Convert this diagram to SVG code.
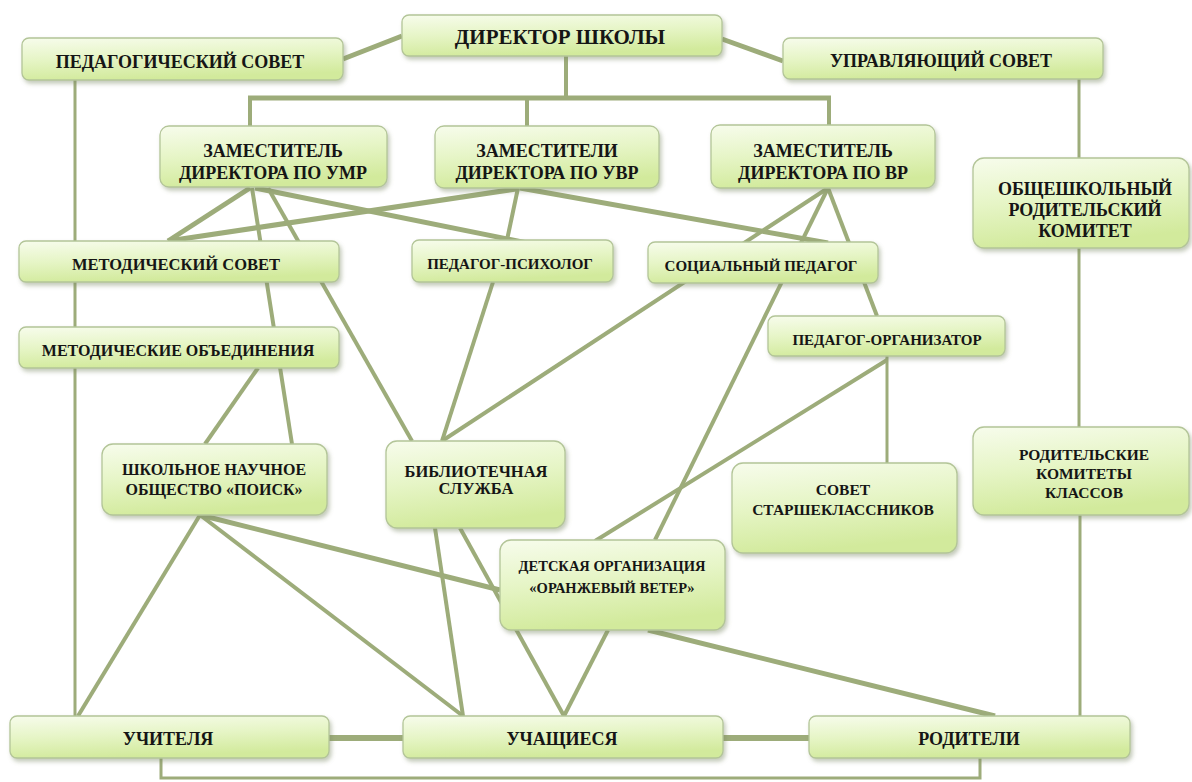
<svg xmlns="http://www.w3.org/2000/svg" width="1192" height="782" viewBox="0 0 1192 782">
<defs>
<linearGradient id="g" x1="0" y1="0" x2="0.25" y2="1">
<stop offset="0" stop-color="#f7fcec"/>
<stop offset="0.5" stop-color="#e6f5c6"/>
<stop offset="1" stop-color="#d2ea9c"/>
</linearGradient>
<filter id="sh" x="-10%" y="-10%" width="125%" height="135%">
<feDropShadow dx="2" dy="3" stdDeviation="2" flood-color="#7d8a66" flood-opacity="0.45"/>
</filter>
<style>
.box{fill:url(#g);stroke:#b3c598;stroke-width:1.3;filter:url(#sh)}
.t{font-family:"Liberation Serif","Times New Roman",serif;font-weight:bold;font-size:17px;fill:#151515;text-anchor:middle}
.s21{font-size:21px}
.s18{font-size:18px}
.s165{font-size:16.5px}
.s16{font-size:16px}
.s155{font-size:15.5px}
.s15{font-size:15px}
.s145{font-size:14.5px}
.c{stroke:#9dac7a;fill:none;stroke-linecap:butt}
.w3{stroke-width:3}
.w4{stroke-width:4}
.w5{stroke-width:5}
.w6{stroke-width:6}
</style>
</defs>
<rect width="1192" height="782" fill="#ffffff"/>
<g id="connectors">
<line class="c w5" x1="402" y1="36" x2="343" y2="59"/>
<line class="c w5" x1="722" y1="39" x2="783" y2="61"/>
<line class="c w4" x1="566" y1="56" x2="566" y2="98"/>
<line class="c w5" x1="248" y1="98" x2="831" y2="98"/>
<line class="c w4" x1="250" y1="98" x2="250" y2="126"/>
<line class="c w4" x1="527" y1="98" x2="527" y2="126"/>
<line class="c w4" x1="829" y1="98" x2="829" y2="125"/>
<line class="c w3" x1="75" y1="80" x2="75" y2="716"/>
<line class="c w3" x1="1079" y1="79" x2="1079" y2="158"/>
<line class="c w3" x1="1079" y1="248" x2="1079" y2="427"/>
<line class="c w3" x1="1080" y1="515" x2="1080" y2="716"/>
<line class="c w5" x1="250" y1="188" x2="168" y2="241"/>
<line class="c w4" x1="252" y1="188" x2="292" y2="444"/>
<line class="c w4" x1="268" y1="188" x2="412" y2="441"/>
<line class="c w5" x1="255" y1="188" x2="527" y2="243"/>
<line class="c w5" x1="516" y1="189" x2="168" y2="241"/>
<line class="c w4" x1="518" y1="188" x2="507" y2="240"/>
<line class="c w5" x1="520" y1="188" x2="828" y2="243"/>
<line class="c w4" x1="828" y1="188" x2="442" y2="441"/>
<line class="c w4" x1="828" y1="188" x2="655" y2="540"/>
<line class="c w4" x1="828" y1="188" x2="877" y2="316"/>
<line class="c w4" x1="493" y1="282" x2="442" y2="441"/>
<line class="c w4" x1="258" y1="368" x2="205" y2="444"/>
<line class="c w4" x1="887" y1="360" x2="595" y2="541"/>
<line class="c w3" x1="887" y1="356" x2="887" y2="463"/>
<line class="c w4" x1="200" y1="515" x2="78" y2="716"/>
<line class="c w4" x1="200" y1="515" x2="463" y2="716"/>
<line class="c w5" x1="200" y1="515" x2="500" y2="590"/>
<line class="c w4" x1="435" y1="528" x2="463" y2="716"/>
<line class="c w4" x1="460" y1="528" x2="564" y2="716"/>
<line class="c w4" x1="608" y1="630" x2="564" y2="716"/>
<line class="c w5" x1="648" y1="630" x2="995" y2="716"/>
<line class="c w6" x1="329" y1="738" x2="403" y2="738"/>
<line class="c w6" x1="723" y1="738" x2="809" y2="738"/>
<polyline class="c w3" points="161,758 161,778 980,778 980,758" stroke="#b7c49a"/>
</g>
<g id="director"><rect class="box" x="402" y="15" width="320" height="41" rx="7"/><text class="t s21" x="560" y="44">ДИРЕКТОР ШКОЛЫ</text></g>
<g id="ped-sovet"><rect class="box" x="22" y="38" width="321" height="42" rx="7"/><text class="t s18" x="180" y="68">ПЕДАГОГИЧЕСКИЙ СОВЕТ</text></g>
<g id="upr-sovet"><rect class="box" x="783" y="38" width="320" height="41" rx="7"/><text class="t s18" x="941" y="67">УПРАВЛЯЮЩИЙ СОВЕТ</text></g>
<g id="zam-umr"><rect class="box" x="160" y="126" width="227" height="61" rx="9"/><text class="t s18" x="273" y="157">ЗАМЕСТИТЕЛЬ</text><text class="t s18" x="273" y="179">ДИРЕКТОРА ПО УМР</text></g>
<g id="zam-uvr"><rect class="box" x="435" y="126" width="224" height="62" rx="9"/><text class="t s18" x="547" y="157">ЗАМЕСТИТЕЛИ</text><text class="t s18" x="547" y="179">ДИРЕКТОРА ПО УВР</text></g>
<g id="zam-vr"><rect class="box" x="711" y="125" width="224" height="63" rx="9"/><text class="t s18" x="823" y="157">ЗАМЕСТИТЕЛЬ</text><text class="t s18" x="823" y="179">ДИРЕКТОРА ПО ВР</text></g>
<g id="obsh-kom"><rect class="box" x="973" y="158" width="216" height="90" rx="11"/><text class="t s18" x="1085" y="195">ОБЩЕШКОЛЬНЫЙ</text><text class="t s18" x="1085" y="216">РОДИТЕЛЬСКИЙ</text><text class="t s18" x="1085" y="237">КОМИТЕТ</text></g>
<g id="metod-sovet"><rect class="box" x="19" y="241" width="320" height="41" rx="7"/><text class="t s165" x="176" y="270">МЕТОДИЧЕСКИЙ СОВЕТ</text></g>
<g id="metod-ob"><rect class="box" x="19" y="327" width="320" height="41" rx="7"/><text class="t s16" x="178" y="356">МЕТОДИЧЕСКИЕ ОБЪЕДИНЕНИЯ</text></g>
<g id="psych"><rect class="box" x="412" y="240" width="201" height="42" rx="7"/><text class="t s15" x="510" y="269">ПЕДАГОГ-ПСИХОЛОГ</text></g>
<g id="soc"><rect class="box" x="648" y="242" width="230" height="41" rx="7"/><text class="t s15" x="761" y="271">СОЦИАЛЬНЫЙ ПЕДАГОГ</text></g>
<g id="org"><rect class="box" x="768" y="316" width="237" height="40" rx="7"/><text class="t s15" x="887" y="345">ПЕДАГОГ-ОРГАНИЗАТОР</text></g>
<g id="shno"><rect class="box" x="102" y="444" width="225" height="71" rx="11"/><text class="t s16" x="214" y="475">ШКОЛЬНОЕ НАУЧНОЕ</text><text class="t s16" x="214" y="495">ОБЩЕСТВО «ПОИСК»</text></g>
<g id="lib"><rect class="box" x="386" y="441" width="179" height="87" rx="11"/><text class="t s165" x="476" y="477">БИБЛИОТЕЧНАЯ</text><text class="t s165" x="476" y="494">СЛУЖБА</text></g>
<g id="det"><rect class="box" x="500" y="540" width="225" height="90" rx="11"/><text class="t s145" x="612" y="571">ДЕТСКАЯ ОРГАНИЗАЦИЯ</text><text class="t s145" x="612" y="593">«ОРАНЖЕВЫЙ ВЕТЕР»</text></g>
<g id="stars"><rect class="box" x="732" y="463" width="225" height="90" rx="11"/><text class="t s155" x="843" y="495">СОВЕТ</text><text class="t s155" x="843" y="515">СТАРШЕКЛАССНИКОВ</text></g>
<g id="rod-kom"><rect class="box" x="973" y="427" width="216" height="88" rx="11"/><text class="t s155" x="1084" y="460">РОДИТЕЛЬСКИЕ</text><text class="t s155" x="1084" y="479">КОМИТЕТЫ</text><text class="t s155" x="1084" y="498">КЛАССОВ</text></g>
<g id="uchitelya"><rect class="box" x="10" y="716" width="319" height="42" rx="7"/><text class="t s18" x="168" y="745">УЧИТЕЛЯ</text></g>
<g id="uchashiesya"><rect class="box" x="403" y="716" width="320" height="42" rx="7"/><text class="t s18" x="562" y="745">УЧАЩИЕСЯ</text></g>
<g id="roditeli"><rect class="box" x="809" y="716" width="321" height="42" rx="7"/><text class="t s18" x="969" y="745">РОДИТЕЛИ</text></g>
</svg>
